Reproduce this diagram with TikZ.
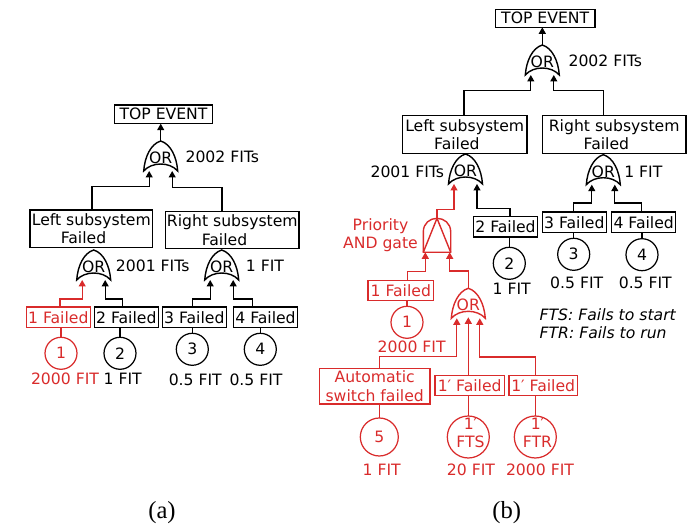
\documentclass[tikz,border=0pt]{standalone}
\usepackage{fontspec}
\setmainfont{DejaVu Sans}
\newfontfamily\captionfont{Liberation Serif}
\usetikzlibrary{arrows.meta, calc}
\definecolor{failred}{HTML}{D92B2B}

\begin{document}
\begin{tikzpicture}[
  x=0.02cm, y=-0.02cm,
  font=\fontsize{8.9}{10.5}\selectfont,
  hot/.style={color=failred},
  box/.style={
    draw, line width=0.8pt, align=center, inner sep=0pt, outer sep=0pt
  },
  smallbox/.style={box, minimum width=1.28cm, minimum height=0.41cm},
  bigbox/.style={box, minimum height=0.75cm},
  event/.style={
    draw, circle, line width=0.7pt, align=center, inner sep=0pt, outer sep=0pt,
    minimum size=0.64cm
  },
  fit label/.style={inner sep=0pt},
  wire/.style={line width=0.7pt},
  flow/.style={
    wire, -{Stealth[length=1.3mm, width=1.4mm, inset=0pt]}
  },
  orgate/.pic={
    \draw[line width=0.8pt] (0,0) .. controls (10,3) and (16,16) .. (17,30)
      .. controls (9,20.7) and (-9,20.7) .. (-17,30)
      .. controls (-16,16) and (-10,3) .. cycle;
    \node[inner sep=0pt] (-txt) at (0,17) {OR};
    \coordinate (-t) at (0,0);
    \coordinate (-l) at (-11.5,30);
    \coordinate (-m) at (0,29);
    \coordinate (-r) at (11.5,30);
  },
  andgate/.pic={
    \draw[line width=0.8pt] (-13.7,34) -- (-13.7,13.5) .. controls (-13.7,5) and (-7,0) .. (0,0)
      .. controls (7,0) and (13.7,5) .. (13.7,13.5) -- (13.7,34) -- cycle;
    \draw[line width=0.8pt] (-13.7,34) -- (0,0) -- (13.7,34);
    \coordinate (-t) at (0,0);
    \coordinate (-l) at (-11.7,34);
    \coordinate (-r) at (12.7,34);
  }
]
  \useasboundingbox (0,0) rectangle (697,526);

  % (a)
  \node[box, minimum width=1.95cm, minimum height=0.375cm] (topa) at (163.5,114.3) {TOP EVENT};
  \pic (gatea) at (160.7,141) {orgate};
  \node[fit label] (fitsa) at (222.3,156.7) {2002 FITs};

  \node[bigbox, minimum width=2.45cm] (lefta) at (91.3,228.7) {Left subsystem\\Failed\hspace*{1em}};
  \node[bigbox, minimum width=2.67cm] (righta) at (232.3,230) {Right subsystem\\Failed\hspace*{1em}};
  \pic (gateal) at (93.7,250) {orgate};
  \pic (gatear) at (221.7,250) {orgate};
  \node[fit label] (fitsal) at (152.7,265.7) {2001 FITs};
  \node[fit label] (fitsar) at (265,265.7) {1 FIT};

  \node[smallbox, hot] (faila1) at (58.3,317.2) {1 Failed};
  \node[smallbox] (faila2) at (126.3,317.2) {2 Failed};
  \node[smallbox] (faila3) at (194.3,317.2) {3 Failed};
  \node[smallbox] (faila4) at (265.5,317.2) {4 Failed};
  \node[event, hot] (eva1) at (61,353.3) {1};
  \node[event] (eva2) at (120,353.3) {2};
  \node[event] (eva3) at (192.3,349.3) {3};
  \node[event] (eva4) at (260.3,349.3) {4};
  \node[fit label, hot] (fita1) at (65,379.3) {2000 FIT};
  \node[fit label] (fita2) at (122.7,379.3) {1 FIT};
  \node[fit label] (fita3) at (195.3,380) {0.5 FIT};
  \node[fit label] (fita4) at (256,380) {0.5 FIT};
  \node[font=\captionfont\fontsize{14}{16}\selectfont, inner sep=0pt] (capa) at (162,513) {(a)};

  \draw[flow] (gatea-t) -- (gatea-t |- topa.south);
  \draw[flow] ($(lefta.north)+(0.7,0)$) -- ++(0,-23.3) -| (gatea-l);
  \draw[flow] ($(righta.north)+(-10.3,0)$) -- ++(0,-24) -| (gatea-r);
  \draw[flow, hot] ($(faila1.north)+(1.7,0)$) -- ++(0,-8) -| (gateal-l);
  \draw[flow] ($(faila2.north)+(-3.6,0)$) -- ++(0,-8) -| (gateal-r);
  \draw[flow] ($(faila3.north)+(-2,0)$) -- ++(0,-8) -| (gatear-l);
  \draw[flow] ($(faila4.north)+(-13.2,0)$) -- ++(0,-8) -| (gatear-r);
  \draw[wire, hot] (eva1.north) -- (eva1.north |- faila1.south);
  \draw[wire] (eva2.north) -- (eva2.north |- faila2.south);
  \draw[wire] (eva3.north) -- (eva3.north |- faila3.south);
  \draw[wire] (eva4.north) -- (eva4.north |- faila4.south);

  % (b)
  \node[box, minimum width=2cm, minimum height=0.36cm] (topb) at (545.2,18.3) {TOP EVENT};
  \pic (gateb) at (542.3,45) {orgate};
  \node[fit label] (fitsb) at (605.3,61) {2002 FITs};

  \node[bigbox, minimum width=2.5cm] (leftb) at (464.7,134.5) {Left subsystem\\Failed\hspace*{1em}};
  \node[bigbox, minimum width=2.87cm] (rightb) at (614.2,134.5) {Right subsystem\\Failed\hspace*{1em}};
  \pic (gatebl) at (465.5,154) {orgate};
  \pic (gatebr) at (603.3,154.7) {orgate};
  \node[fit label] (fitsbl) at (407.3,172.3) {2001 FITs};
  \node[fit label] (fitsbr) at (643.3,171.7) {1 FIT};

  \pic[hot] (prio) at (437,218.3) {andgate};
  \node[fit label, hot, align=center] (priolabel) at (380.5,235) {Priority\\AND gate};
  \node[smallbox] (failb2) at (505.5,226.7) {2 Failed};
  \node[smallbox] (failb3) at (574.3,222.2) {3 Failed};
  \node[smallbox] (failb4) at (643.7,222.2) {4 Failed};
  \node[event] (evb2) at (509.3,263.3) {2};
  \node[event] (evb3) at (573.7,254.3) {3};
  \node[event] (evb4) at (642,254.7) {4};
  \node[fit label] (fitb2) at (511.7,289.3) {1 FIT};
  \node[fit label] (fitb3) at (576.7,283) {0.5 FIT};
  \node[fit label] (fitb4) at (645.3,283) {0.5 FIT};

  \node[smallbox, hot, minimum width=1.32cm] (failb1) at (400.8,290.5) {1 Failed};
  \node[event, hot] (evb1) at (407,322.3) {1};
  \node[fit label, hot] (fitb1) at (411.7,346.7) {2000 FIT};
  \pic[hot] (gatered) at (468.3,288.3) {orgate};

  \node[bigbox, hot, minimum width=2.21cm, minimum height=0.71cm] (autosw) at (374.7,386.2) {Automatic\\switch failed};
  \node[smallbox, hot, minimum width=1.39cm] (fts) at (469.7,385.5) {1′ Failed};
  \node[smallbox, hot, minimum width=1.37cm] (ftr) at (543.2,385.5) {1′ Failed};
  \node[event, hot, minimum size=0.76cm] (ev5) at (379.3,437) {5};
  \node[event, hot, minimum size=0.84cm] (evfts) at (468.3,437) {};
  \node[event, hot, minimum size=0.84cm] (evftr) at (535.3,437) {};
  \node[fit label, hot, align=center] (txtfts) at (470.5,433) {1′\\FTS};
  \node[fit label, hot, align=center] (txtftr) at (537.5,433) {1′\\FTR};
  \node[fit label, hot] (fit5) at (381.7,470) {1 FIT};
  \node[fit label, hot] (fitfts) at (471,470) {20 FIT};
  \node[fit label, hot] (fitftr) at (540,470) {2000 FIT};

  \node[fit label, anchor=west, font=\itshape\fontsize{8.9}{10.5}\selectfont] (notefts) at (539.3,315) {FTS: Fails to start};
  \node[fit label, anchor=west, font=\itshape\fontsize{8.9}{10.5}\selectfont] (noteftr) at (539.3,333) {FTR: Fails to run};
  \node[font=\captionfont\fontsize{14}{16}\selectfont, inner sep=0pt] (capb) at (506.7,513) {(b)};

  \draw[flow] (gateb-t) -- (gateb-t |- topb.south);
  \draw[flow] ($(leftb.north)+(-0.7,0)$) -- ++(0,-25) -| (gateb-l);
  \draw[flow] ($(rightb.north)+(-10.5,0)$) -- ++(0,-25) -| (gateb-r);
  \draw[flow, hot] (prio-t) -- ++(0,-9) -| (gatebl-l);
  \draw[flow] ($(failb2.north)+(4.5,0)$) -- ++(0,-7.7) -| (gatebl-r);
  \draw[flow] ($(failb3.north)+(-0.6,0)$) -- ++(0,-9) -| (gatebr-l);
  \draw[flow] ($(failb4.north)+(-2,0)$) -- ++(0,-9) -| (gatebr-r);
  \draw[flow, hot] ($(failb1.north)+(6.9,0)$) -- ++(0,-9) -| (prio-l);
  \draw[flow, hot] (gatered-t) -- ++(0,-17.3) -| (prio-r);
  \draw[flow, hot] ($(autosw.north)+(4.6,0)$) -- ++(0,-11.6) -| (gatered-l);
  \draw[flow, hot] (fts.north -| gatered-m) -- (gatered-m);
  \draw[flow, hot] ($(ftr.north)+(-7.9,0)$) -- ++(0,-18.3) -| (gatered-r);
  \draw[wire] (evb2.north) -- (evb2.north |- failb2.south);
  \draw[wire] (evb3.north) -- (evb3.north |- failb3.south);
  \draw[wire] (evb4.north) -- (evb4.north |- failb4.south);
  \draw[wire, hot] (evb1.north) -- (evb1.north |- failb1.south);
  \draw[wire, hot] (ev5.north) -- (ev5.north |- autosw.south);
  \draw[wire, hot] (evfts.north) -- (evfts.north |- fts.south);
  \draw[wire, hot] (evftr.north) -- (evftr.north |- ftr.south);
\end{tikzpicture}
\end{document}
